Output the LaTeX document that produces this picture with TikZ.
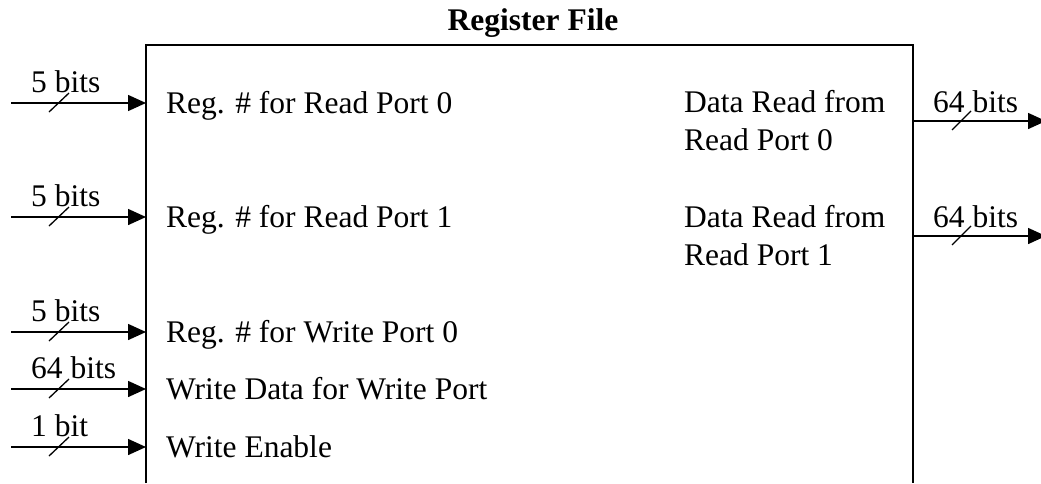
\documentclass[tikz,border=0pt]{standalone}
\usepackage{fontspec}
\setmainfont{Liberation Serif}
\usetikzlibrary{arrows.meta, calc}

\tikzset{
    sig/.style={line width=1.5pt, -{Triangle[length=18pt, width=16pt]}},
    busmark/.style={line width=1.3pt},
    txt/.style={inner sep=0pt, font=\fontsize{31.5}{38}\selectfont},
}

\begin{document}
\begin{tikzpicture}[x=1pt, y=-1pt]
    \useasboundingbox (0,0) rectangle (1041,483);

    % Register file block (open at the bottom)
    \coordinate (BL) at (146, 483);
    \coordinate (TL) at (146, 45);
    \coordinate (TR) at (913, 45);
    \coordinate (BR) at (913, 483);
    \draw[line width=1.5pt] (BL) -- (TL) -- (TR) -- (BR);
    \node[txt, anchor=base, font=\fontsize{31.5}{38}\selectfont\bfseries] (title) at (533, 30) {Register File};

    % Inputs
    \foreach \n/\y/\bits/\name in {0/103/5 bits/Reg. \# for Read Port 0,
                                   1/217/5 bits/Reg. \# for Read Port 1,
                                   2/332/5 bits/Reg. \# for Write Port 0,
                                   3/389/64 bits/Write Data for Write Port,
                                   4/447/1 bit/Write Enable} {
        \coordinate (in\n) at (11, \y);
        \coordinate (port\n) at (146, \y);
        \draw[sig] (in\n) -- (port\n);
        \draw[busmark] ($(in\n)+(38,9)$) -- ++(20,-19);
        \node[txt, anchor=base west] (inbits\n) at ($(in\n)+(20,-11)$) {\bits};
        \node[txt, anchor=base west] (inlbl\n) at ($(port\n)+(20,10)$) {\name};
    }

    % Outputs
    \foreach \n/\y in {0/121, 1/236} {
        \coordinate (rd\n) at (913, \y);
        \coordinate (out\n) at (1046, \y);
        \draw[sig] (rd\n) -- (out\n);
        \draw[busmark] ($(rd\n)+(39,9)$) -- ++(19,-19);
        \node[txt, anchor=base west] (outbits\n) at ($(rd\n)+(20,-9)$) {64 bits};
        \node[txt, anchor=base west] (outlbl\n) at ($(rd\n)+(-229,-9)$) {Data Read from};
        \node[txt, anchor=base west] at ($(outlbl\n.base west)+(0,38)$) {Read Port \n};
    }
\end{tikzpicture}
\end{document}
